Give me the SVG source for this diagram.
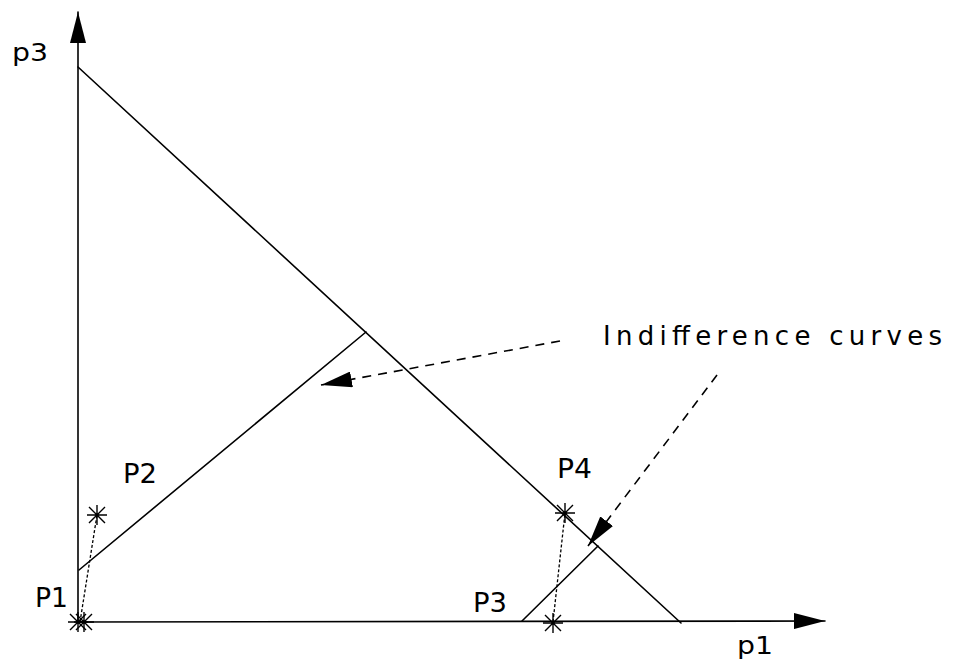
<svg xmlns="http://www.w3.org/2000/svg" width="957" height="661" viewBox="0 0 957 661">
<style>
.ln{stroke:#000;stroke-width:1.6;fill:none;stroke-linecap:round}
.dash{stroke:#000;stroke-width:1.6;fill:none;stroke-dasharray:9 7}
.dot{stroke:#000;stroke-width:1.3;fill:none;stroke-dasharray:3 2}
.star{stroke:#000;stroke-width:1.4;fill:none}
.lbl{font-family:"DejaVu Sans","Liberation Sans",Arial,sans-serif;fill:#000;stroke:none;font-weight:normal}
</style>
<defs>
<marker id="ah" markerUnits="userSpaceOnUse" viewBox="0 0 31 16" markerWidth="31" markerHeight="16" refX="31" refY="8" orient="auto">
<path d="M0,0 L31,8 L0,16 Z" fill="#000" stroke="none"/>
</marker>
<path id="ast" d="M-10,0 H10 M0,-10 V10 M-8,-8 L8,8 M-8,8 L8,-8"/>
</defs>
<rect width="957" height="661" fill="#fff"/>
<g id="axes">
<line class="ln" x1="78" y1="623" x2="78" y2="12" marker-end="url(#ah)"/>
<line class="ln" x1="78" y1="622" x2="825" y2="621" marker-end="url(#ah)"/>
</g>
<g id="budget-line">
<line class="ln" x1="78" y1="67" x2="681" y2="623"/>
</g>
<g id="indifference-curve-1">
<line class="ln" x1="79" y1="570" x2="366" y2="332"/>
</g>
<g id="indifference-curve-2">
<line class="ln" x1="522" y1="621" x2="598" y2="546"/>
</g>
<g id="P1">
<use href="#ast" class="star" x="78" y="622"/>
<use href="#ast" class="star" x="84" y="622"/>
<text class="lbl" x="35" y="607" font-size="26" textLength="33" lengthAdjust="spacingAndGlyphs">P1</text>
</g>
<g id="P2">
<use href="#ast" class="star" x="97" y="515"/>
<text class="lbl" x="123" y="483" font-size="26" textLength="34" lengthAdjust="spacingAndGlyphs">P2</text>
</g>
<g id="P3">
<use href="#ast" class="star" x="553" y="623"/>
<text class="lbl" x="473" y="612" font-size="26" textLength="34" lengthAdjust="spacingAndGlyphs">P3</text>
</g>
<g id="P4">
<use href="#ast" class="star" x="565" y="513"/>
<text class="lbl" x="557" y="478" font-size="26" textLength="35" lengthAdjust="spacingAndGlyphs">P4</text>
</g>
<g id="label-p3">
<text class="lbl" x="12" y="61" font-size="24" textLength="36" lengthAdjust="spacingAndGlyphs">p3</text>
</g>
<g id="label-p1">
<text class="lbl" x="737" y="654" font-size="24" textLength="36" lengthAdjust="spacingAndGlyphs">p1</text>
</g>
<g id="label-indifference">
<text class="lbl" x="603" y="345" font-size="26" textLength="339" lengthAdjust="spacing">Indifference curves</text>
</g>
<g id="connectors">
<line class="dot" x1="80" y1="622" x2="97" y2="515"/>
<line class="dot" x1="553" y1="622" x2="565" y2="513"/>
<line class="dash" x1="560" y1="341" x2="321" y2="385" marker-end="url(#ah)"/>
<line class="dash" x1="717" y1="375" x2="588" y2="546" marker-end="url(#ah)"/>
</g>
</svg>
